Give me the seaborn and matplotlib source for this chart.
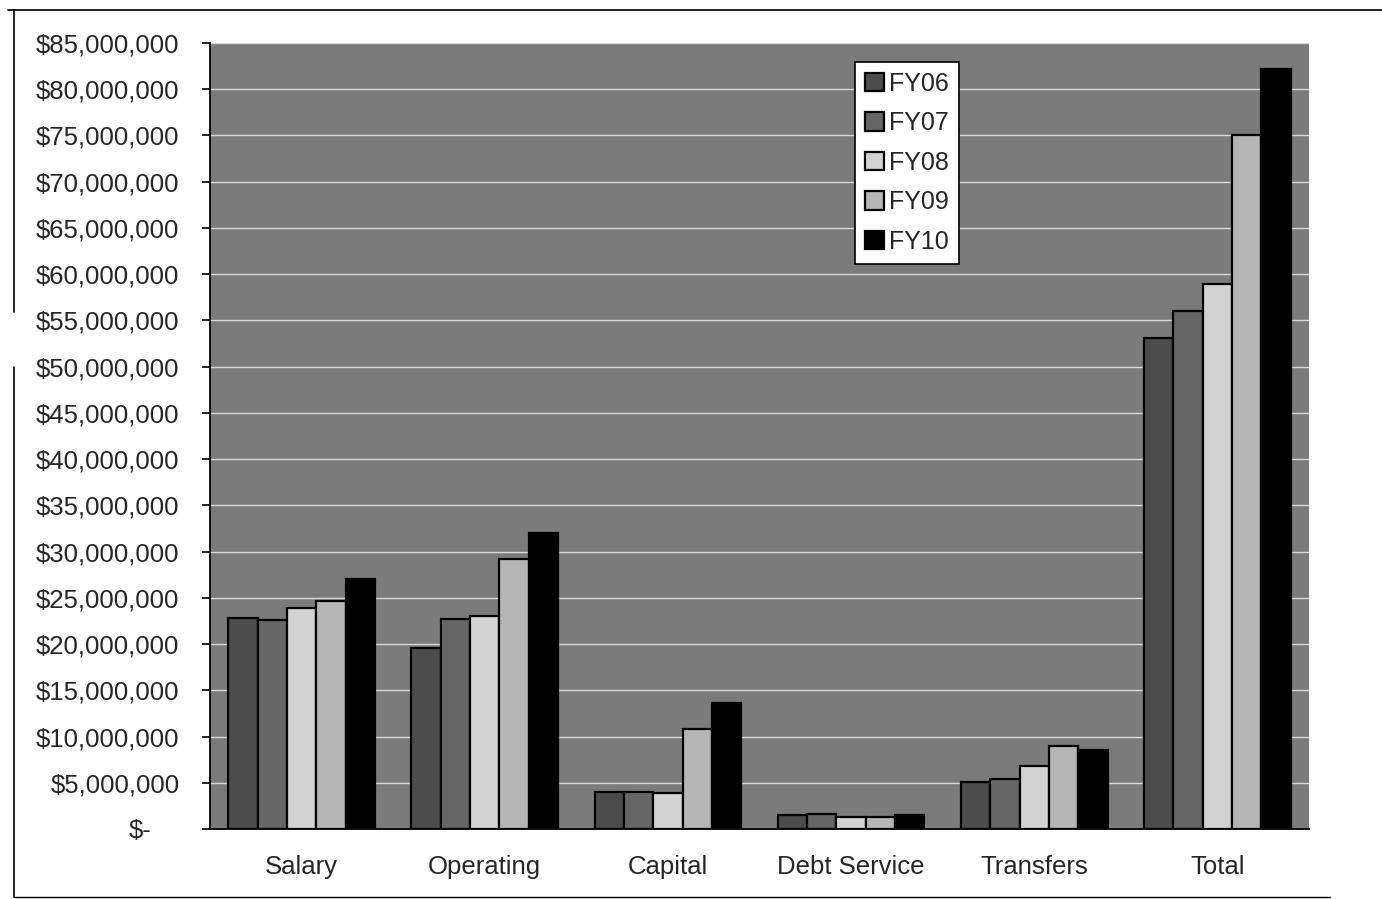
import matplotlib
matplotlib.use("Agg")
import matplotlib.pyplot as plt
import matplotlib.transforms as mtransforms
from matplotlib.lines import Line2D
import seaborn as sns
import pandas as pd

# categories and fiscal years
categories = ["Salary", "Operating", "Capital", "Debt Service", "Transfers", "Total"]
years = ["FY06", "FY07", "FY08", "FY09", "FY10"]

# values, one list per year (dollars)
fy06 = [22800000, 19600000, 4050000, 1500000, 5100000, 53100000]
fy07 = [22650000, 22700000, 4000000, 1650000, 5450000, 56000000]
fy08 = [23850000, 23050000, 3900000, 1300000, 6800000, 58900000]
fy09 = [24700000, 29250000, 10800000, 1300000, 9000000, 75100000]
fy10 = [27000000, 32000000, 13600000, 1550000, 8550000, 82200000]

y_ticks = list(range(0, 85000001, 5000000))

bar_colors = ["#4c4c4c", "#666666", "#d2d2d2", "#b5b5b5", "#000000"]

df = pd.DataFrame({
    "category": categories * 5,
    "year": [y for y in years for _ in categories],
    "value": fy06 + fy07 + fy08 + fy09 + fy10,
})

sns.set_style("white")
plt.rcParams["font.family"] = ["Liberation Sans", "DejaVu Sans"]

fig = plt.figure(figsize=(13.82, 8.99), dpi=100)
ax = fig.add_axes([210 / 1382, 70 / 899, 1099 / 1382, 786 / 899])
ax.set_facecolor("#7b7b7b")

sns.barplot(data=df, x="category", y="value", hue="year", order=categories,
            hue_order=years, palette=bar_colors, width=0.8, gap=0,
            edgecolor="black", linewidth=1.6, ax=ax, zorder=3)

ax.set_ylim(0, 85000000)
ax.set_xlim(-0.5, len(categories) - 0.5)
ax.set_yticks(y_ticks)
labels = ["$-" if v == 0 else f"${v:,.0f}" for v in y_ticks]
ax.set_yticklabels(labels, fontsize=18.5)
ax.grid(axis="y", color="#d8d8d8", linewidth=1.0, zorder=1)
ax.set_axisbelow(True)
ax.set_xlabel("")
ax.set_ylabel("")

# Excel-style: category labels centred, tick marks between groups
ax.set_xticks(range(len(categories)))
ax.set_xticklabels(categories, fontsize=18.5)
ax.set_xticks([i - 0.5 for i in range(len(categories) + 1)], minor=True)
ax.tick_params(axis="x", which="major", length=0, pad=19)
ax.tick_params(axis="x", which="minor", length=8, width=1.2, color="black", direction="out")
ax.tick_params(axis="y", length=6, width=1.2, color="black", direction="out", pad=16, left=True)

for side in ["top", "right"]:
    ax.spines[side].set_visible(False)
for side in ["left", "bottom"]:
    ax.spines[side].set_color("black")
    ax.spines[side].set_linewidth(1.3)

# the "$-" label sits further left, as in accounting format
zero_label = ax.get_yticklabels()[0]
zero_label.set_transform(zero_label.get_transform()
                         + mtransforms.ScaledTranslation(-0.28, 0, fig.dpi_scale_trans))

leg = ax.legend(loc="upper left", bbox_to_anchor=(0.587, 0.976), fontsize=18,
                frameon=True, fancybox=False, edgecolor="black", facecolor="white",
                framealpha=1, handlelength=0.75, handleheight=0.75, handletextpad=0.2,
                labelspacing=0.62, borderpad=0.4, borderaxespad=0)
leg.get_frame().set_linewidth(1.2)

# scanned page frame
fig.add_artist(Line2D([8 / 1382, 1], [1 - 10 / 899, 1 - 10 / 899], color="black", lw=1.2))
fig.add_artist(Line2D([14 / 1382, 14 / 1382], [1 - 10 / 899, 1 - 312 / 899], color="black", lw=1.2))
fig.add_artist(Line2D([14 / 1382, 14 / 1382], [1 - 367 / 899, 1 - 897 / 899], color="black", lw=1.2))
fig.add_artist(Line2D([14 / 1382, 1330 / 1382], [1 - 897 / 899, 1 - 897 / 899], color="black", lw=1.0))

fig.savefig("out.png", dpi=100)
